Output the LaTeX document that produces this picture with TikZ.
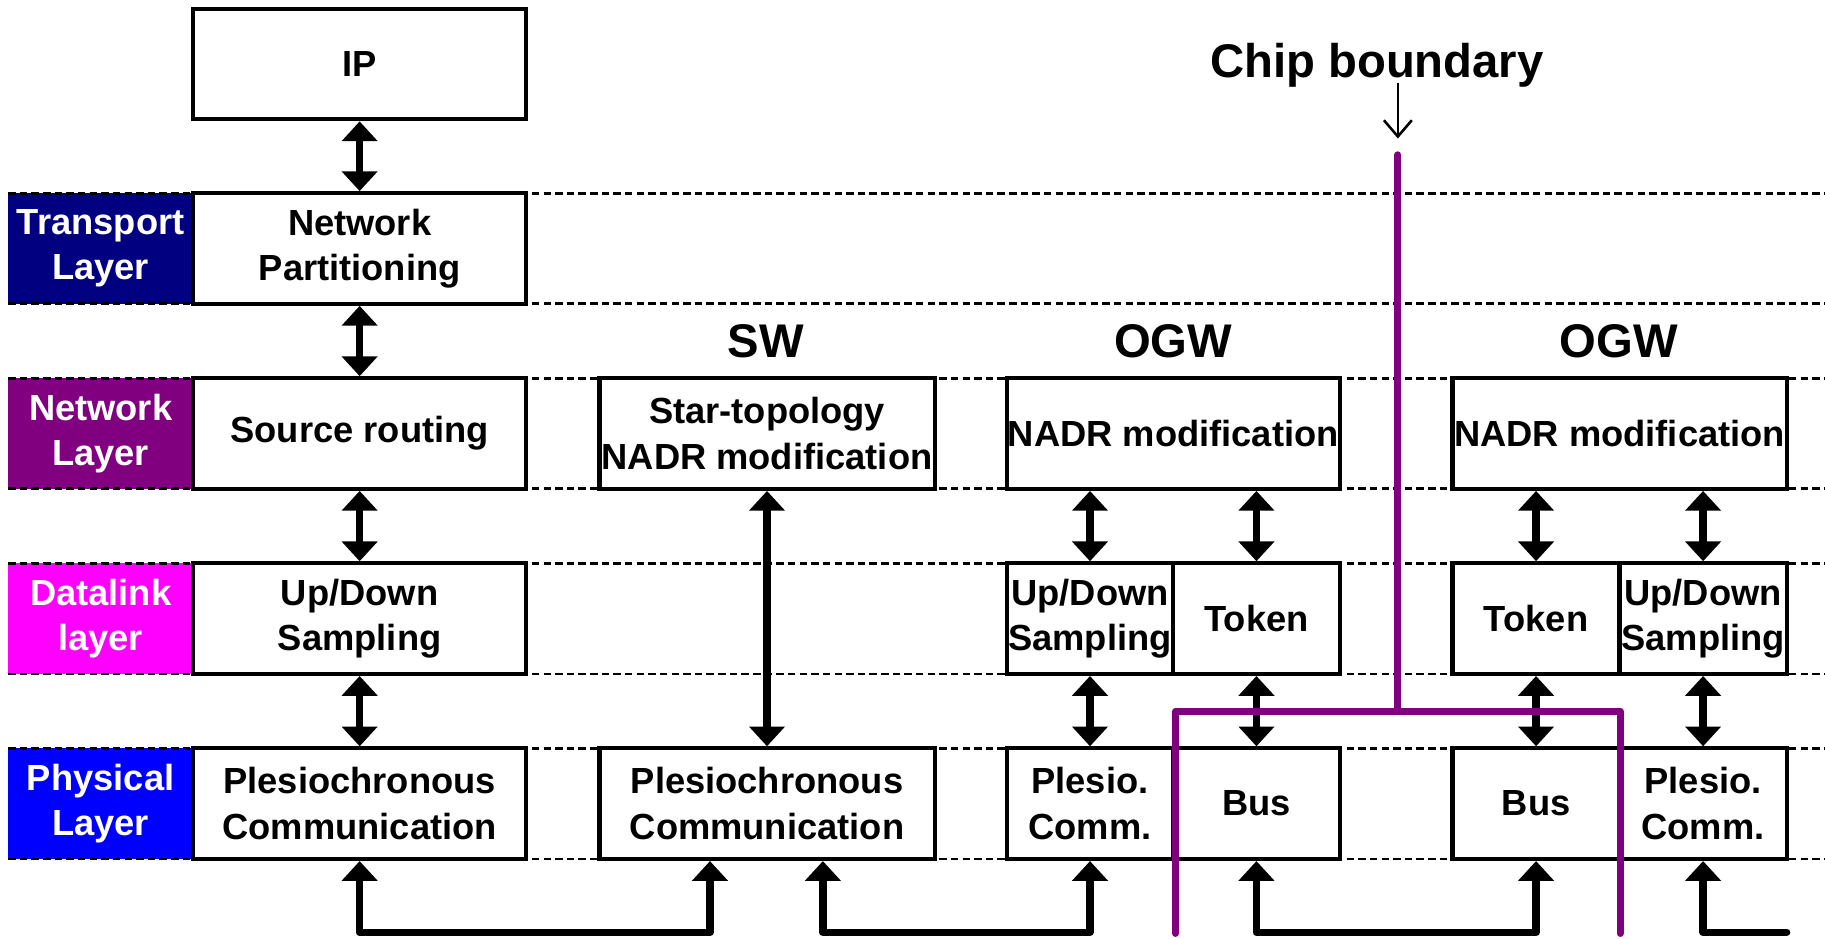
\documentclass[tikz,border=0pt]{standalone}
\usepackage{fontspec}
\setmainfont{Liberation Sans}
\usetikzlibrary{arrows.meta,calc}
\definecolor{tnavy}{RGB}{0,0,128}
\definecolor{tpurple}{RGB}{128,0,128}
\definecolor{tmagenta}{RGB}{255,0,255}
\definecolor{tblue}{RGB}{0,0,255}
\definecolor{chipc}{RGB}{128,0,128}
\newcommand{\boxfont}{\fontsize{15.6}{19.5}\selectfont\bfseries}
\newcommand{\headfont}{\fontsize{20.3}{24}\selectfont\bfseries}
\tikzset{
  box/.style={draw=black, line width=1.8pt, fill=white, inner sep=0pt,
    minimum height=47.5pt, align=center, font=\boxfont},
  lab/.style={text=white, inner sep=0pt, minimum width=79.5pt,
    minimum height=47.5pt, align=center, font=\boxfont},
  head/.style={inner sep=0pt, font=\headfont},
  dashline/.style={draw=black, line width=1.2pt, dash pattern=on 3.2pt off 1.8pt},
  tipT/.tip={Triangle[width=15pt,length=8.5pt]},
  dbl/.style={line width=3.2pt, tipT-tipT},
  link/.style={line width=3.2pt, line join=round},
  chipline/.style={draw=chipc, line width=3pt, line cap=round},
}
\begin{document}
\begin{tikzpicture}[x=0.5pt,y=-0.5pt]
\useasboundingbox (0,0) rectangle (1568,806);

% layer labels
\node[lab, fill=tnavy]    (lt) at (86.5,213.5) {Transport\\Layer};
\node[lab, fill=tpurple]  (ln) at (86.5,372.5) {Network\\Layer};
\node[lab, fill=tmagenta] (ld) at (86.5,531.5) {Datalink\\layer};
\node[lab, fill=tblue]    (lp) at (86.5,690.5) {Physical\\Layer};

% dashed layer boundaries
\foreach \yy in {166,261,325,420,484,579,643,738}
  \draw[dashline] (7,\yy) -- (1568,\yy);

% main column
\node[box, minimum width=143pt] (ip) at (309,55) {IP};
\node[box, minimum width=143pt] (np) at (309,213.5) {Network\\Partitioning};
\node[box, minimum width=143pt] (sr) at (309,372.5) {Source routing};
\node[box, minimum width=143pt] (ud) at (309,531.5) {Up/Down\\Sampling};
\node[box, minimum width=143pt] (pl) at (309,690.5) {Plesiochronous\\Communication};

% SW column
\node[head] (swh) at (658,293) {SW};
\node[box, minimum width=144pt] (star) at (659,372.5) {Star-topology\\NADR modification};
\node[box, minimum width=144pt] (swp) at (659,690.5) {Plesiochronous\\Communication};

% OGW 1
\node[head] (og1) at (1008,293) {OGW};
\node[box, minimum width=143pt] (nadr1) at (1008,372.5) {NADR modification};
\node[box, minimum width=71.5pt] (ud1) at (936.5,531.5) {Up/Down\\Sampling};
\node[box, minimum width=71.5pt] (tok1) at (1079.5,531.5) {Token};
\node[box, minimum width=71.5pt] (pc1) at (936.5,690.5) {Plesio.\\Comm.};
\node[box, minimum width=71.5pt] (bus1) at (1079.5,690.5) {Bus};

% OGW 2
\node[head] (og2) at (1391,293) {OGW};
\node[box, minimum width=143.5pt] (nadr2) at (1391.5,372.5) {NADR modification};
\node[box, minimum width=71.75pt] (tok2) at (1319.75,531.5) {Token};
\node[box, minimum width=71.75pt] (ud2) at (1463.25,531.5) {Up/Down\\Sampling};
\node[box, minimum width=71.75pt] (bus2) at (1319.75,690.5) {Bus};
\node[box, minimum width=71.75pt] (pc2) at (1463.25,690.5) {Plesio.\\Comm.};

% vertical double arrows
\draw[dbl] (ip.south) -- (np.north);
\draw[dbl] (np.south) -- (sr.north);
\draw[dbl] (sr.south) -- (ud.north);
\draw[dbl] (ud.south) -- (pl.north);
\draw[dbl] (star.south) -- (swp.north);
\draw[dbl] (ud1.north |- nadr1.south) -- (ud1.north);
\draw[dbl] (tok1.north |- nadr1.south) -- (tok1.north);
\draw[dbl] (ud1.south) -- (pc1.north);
\draw[dbl] (tok1.south) -- (bus1.north);
\draw[dbl] (tok2.north |- nadr2.south) -- (tok2.north);
\draw[dbl] (ud2.north |- nadr2.south) -- (ud2.north);
\draw[dbl] (tok2.south) -- (bus2.north);
\draw[dbl] (ud2.south) -- (pc2.north);

% bottom links
\coordinate (k1) at (610,801);
\coordinate (k2) at (707,801);
\coordinate (k3) at (1200,801);
\coordinate (k4) at (1535,801);
\draw[link, tipT-tipT] (pl.south) |- (k1) -- (k1 |- swp.south);
\draw[link, tipT-tipT] (k2 |- swp.south) -- (k2) -| (pc1.south);
\draw[link, tipT-tipT] (bus1.south) |- (k3) -| (bus2.south);
\draw[link, tipT-, line cap=round] (pc2.south) |- (k4);

% chip boundary
\node[head, anchor=base] (chip) at (1183,67) {Chip boundary};
\coordinate (ca) at (1201,71);
\coordinate (cb) at (1201,119);
\draw[line width=1.1pt, -{Straight Barb[width=12pt,length=7pt]}] (ca) -- (cb);
\coordinate (ct) at (1201,133);
\coordinate (cj) at (1201,611);
\coordinate (cl) at (1010,611);
\coordinate (cr) at (1392,611);
\coordinate (cl2) at (1010,802);
\coordinate (cr2) at (1392,802);
\draw[chipline] (ct) -- (cj);
\draw[chipline, line join=round] (cl2) -- (cl) -- (cr) -- (cr2);
\end{tikzpicture}
\end{document}
